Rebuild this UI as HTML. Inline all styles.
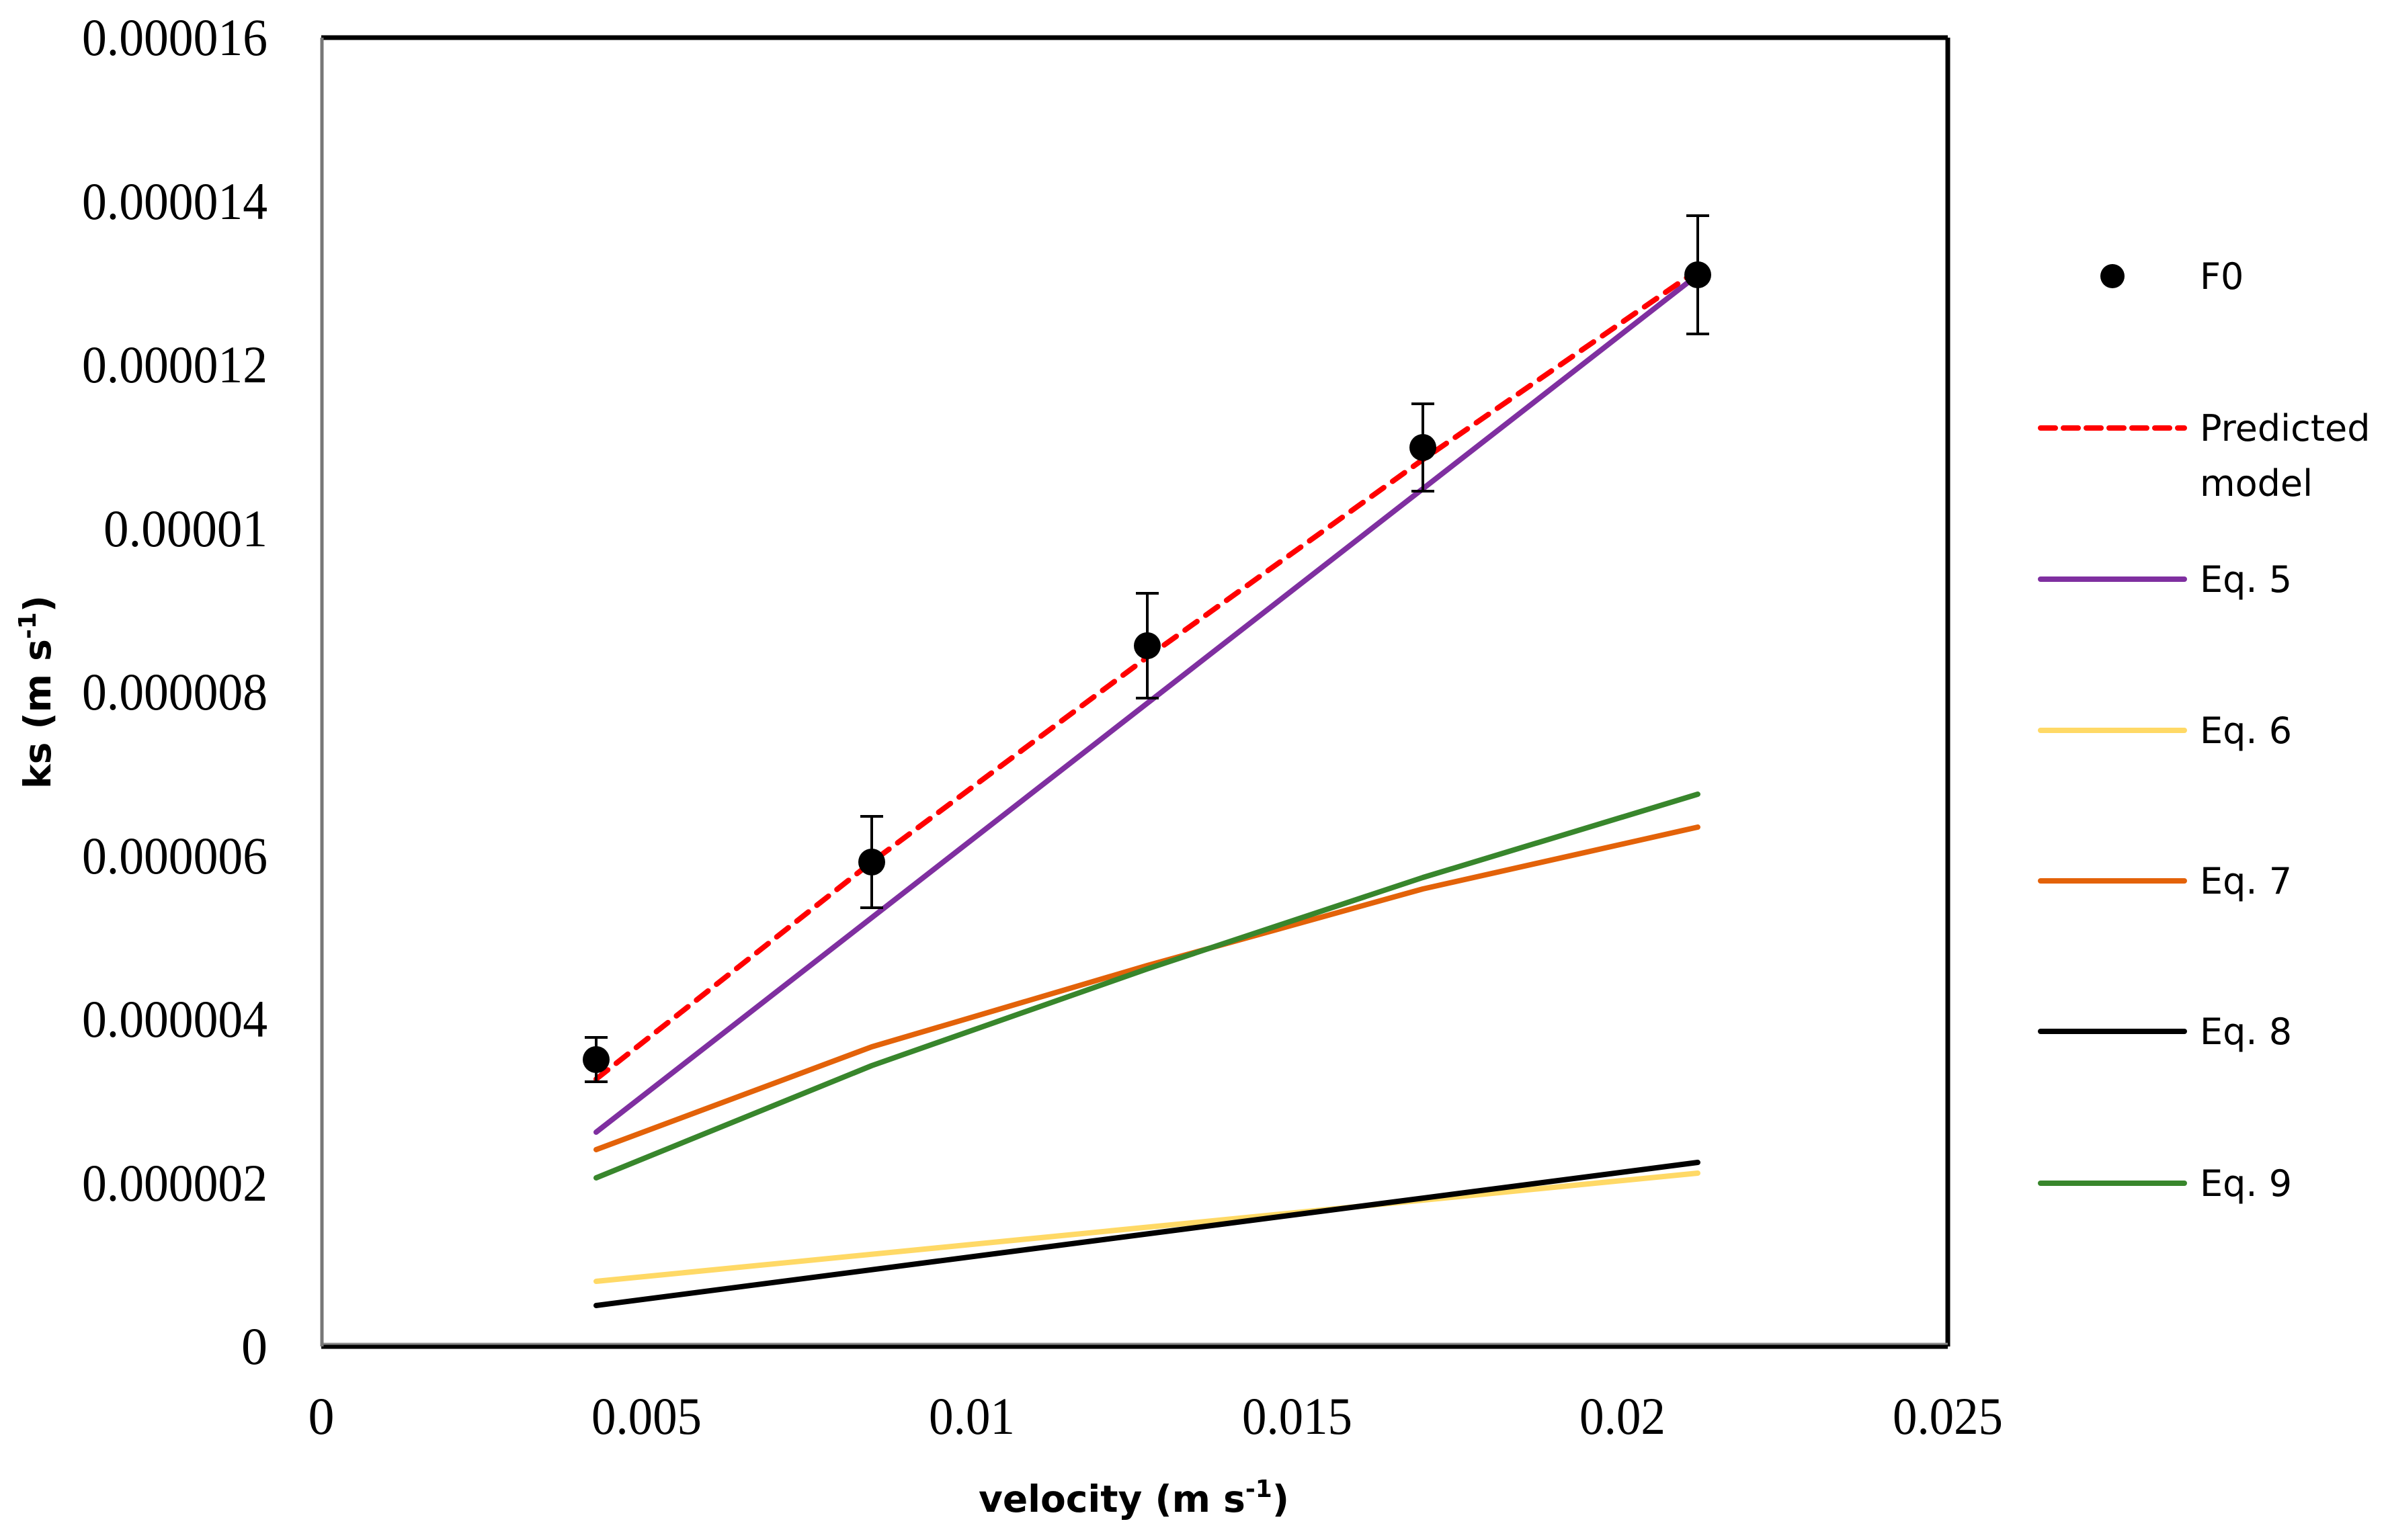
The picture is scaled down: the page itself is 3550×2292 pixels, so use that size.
<!DOCTYPE html>
<html><head><meta charset="utf-8"><style>html,body{margin:0;padding:0;background:#fff}svg{display:block}</style></head><body>
<svg width="3550" height="2292" viewBox="0 0 3550 2292" xmlns="http://www.w3.org/2000/svg">
<rect width="3550" height="2292" fill="#fff"/>
<line x1="478" y1="56" x2="2898" y2="56" stroke="#000" stroke-width="7"/>
<line x1="2898" y1="56" x2="2898" y2="2004" stroke="#000" stroke-width="7"/>
<line x1="478" y1="2004" x2="2898" y2="2004" stroke="#000" stroke-width="7"/>
<line x1="478" y1="2000" x2="2898" y2="2000" stroke="#888" stroke-width="3"/>
<line x1="479" y1="56" x2="479" y2="2004" stroke="#777" stroke-width="5"/>
<g font-family="Liberation Serif, serif" font-size="78" text-anchor="end" fill="#000">
<text x="398" y="82" textLength="276" lengthAdjust="spacingAndGlyphs">0.000016</text>
<text x="398" y="326" textLength="276" lengthAdjust="spacingAndGlyphs">0.000014</text>
<text x="398" y="569" textLength="276" lengthAdjust="spacingAndGlyphs">0.000012</text>
<text x="398" y="813" textLength="244" lengthAdjust="spacingAndGlyphs">0.00001</text>
<text x="398" y="1056" textLength="276" lengthAdjust="spacingAndGlyphs">0.000008</text>
<text x="398" y="1300" textLength="276" lengthAdjust="spacingAndGlyphs">0.000006</text>
<text x="398" y="1543" textLength="276" lengthAdjust="spacingAndGlyphs">0.000004</text>
<text x="398" y="1787" textLength="276" lengthAdjust="spacingAndGlyphs">0.000002</text>
<text x="398" y="2030">0</text>
</g>
<g font-family="Liberation Serif, serif" font-size="78" text-anchor="middle" fill="#000">
<text x="478" y="2134">0</text>
<text x="962" y="2134" textLength="164" lengthAdjust="spacingAndGlyphs">0.005</text>
<text x="1446" y="2134" textLength="128" lengthAdjust="spacingAndGlyphs">0.01</text>
<text x="1930" y="2134" textLength="164" lengthAdjust="spacingAndGlyphs">0.015</text>
<text x="2414" y="2134" textLength="128" lengthAdjust="spacingAndGlyphs">0.02</text>
<text x="2898" y="2134" textLength="164" lengthAdjust="spacingAndGlyphs">0.025</text>
</g>
<text x="1687" y="2250" font-family="DejaVu Sans, sans-serif" font-weight="bold" font-size="55" text-anchor="middle">velocity (m s<tspan font-size="36" dy="-22">-1</tspan><tspan dy="22">)</tspan></text>
<text transform="translate(75,1030) rotate(-90)" font-family="DejaVu Sans, sans-serif" font-weight="bold" font-size="55" text-anchor="middle">ks (m s<tspan font-size="36" dy="-22">-1</tspan><tspan dy="22">)</tspan></text>
<g fill="none" stroke-width="8" stroke-linecap="round" stroke-linejoin="round">
<polyline stroke="#FFD966" points="887,1907 2526,1746"/>
<polyline stroke="#000" points="887,1943 2526,1730"/>
<polyline stroke="#E36209" points="887,1711 1297,1558 1707,1437 2117,1323 2526,1231"/>
<polyline stroke="#38862C" points="887,1753 1297,1586 1707,1442 2117,1306 2526,1182"/>
<polyline stroke="#7F2FA0" points="887,1685 2526,409"/>
<polyline stroke="#FF0000" stroke-dasharray="22,16" points="887,1606 1297,1283 1707,978 2117,684 2526,402"/>
</g>
<g stroke="#000" stroke-width="4">
<line x1="887" y1="1544" x2="887" y2="1610"/><line x1="870" y1="1544" x2="904" y2="1544"/><line x1="870" y1="1610" x2="904" y2="1610"/>
<line x1="1297" y1="1215" x2="1297" y2="1351"/><line x1="1280" y1="1215" x2="1314" y2="1215"/><line x1="1280" y1="1351" x2="1314" y2="1351"/>
<line x1="1707" y1="883" x2="1707" y2="1039"/><line x1="1690" y1="883" x2="1724" y2="883"/><line x1="1690" y1="1039" x2="1724" y2="1039"/>
<line x1="2117" y1="601" x2="2117" y2="731"/><line x1="2100" y1="601" x2="2134" y2="601"/><line x1="2100" y1="731" x2="2134" y2="731"/>
<line x1="2526" y1="321" x2="2526" y2="497"/><line x1="2509" y1="321" x2="2543" y2="321"/><line x1="2509" y1="497" x2="2543" y2="497"/>
</g>
<g fill="#000">
<circle cx="887" cy="1577" r="20"/><circle cx="1297" cy="1283" r="20"/><circle cx="1707" cy="961" r="20"/><circle cx="2117" cy="666" r="20"/><circle cx="2526" cy="409" r="20"/>
</g>
<g font-family="DejaVu Sans, sans-serif" font-size="54" fill="#000">
<circle cx="3143" cy="411" r="18"/>
<text x="3273" y="430">F0</text>
<line x1="3036" y1="637" x2="3250" y2="637" stroke="#FF0000" stroke-width="8" stroke-dasharray="22,12" stroke-linecap="round"/>
<text x="3273" y="656">Predicted</text>
<text x="3273" y="738">model</text>
<line x1="3036" y1="862" x2="3250" y2="862" stroke="#7F2FA0" stroke-width="8" stroke-linecap="round"/>
<text x="3273" y="881">Eq. 5</text>
<line x1="3036" y1="1087" x2="3250" y2="1087" stroke="#FFD966" stroke-width="8" stroke-linecap="round"/>
<text x="3273" y="1106">Eq. 6</text>
<line x1="3036" y1="1311" x2="3250" y2="1311" stroke="#E36209" stroke-width="8" stroke-linecap="round"/>
<text x="3273" y="1330">Eq. 7</text>
<line x1="3036" y1="1535" x2="3250" y2="1535" stroke="#000" stroke-width="8" stroke-linecap="round"/>
<text x="3273" y="1554">Eq. 8</text>
<line x1="3036" y1="1761" x2="3250" y2="1761" stroke="#38862C" stroke-width="8" stroke-linecap="round"/>
<text x="3273" y="1780">Eq. 9</text>
</g>
</svg>
</body></html>
